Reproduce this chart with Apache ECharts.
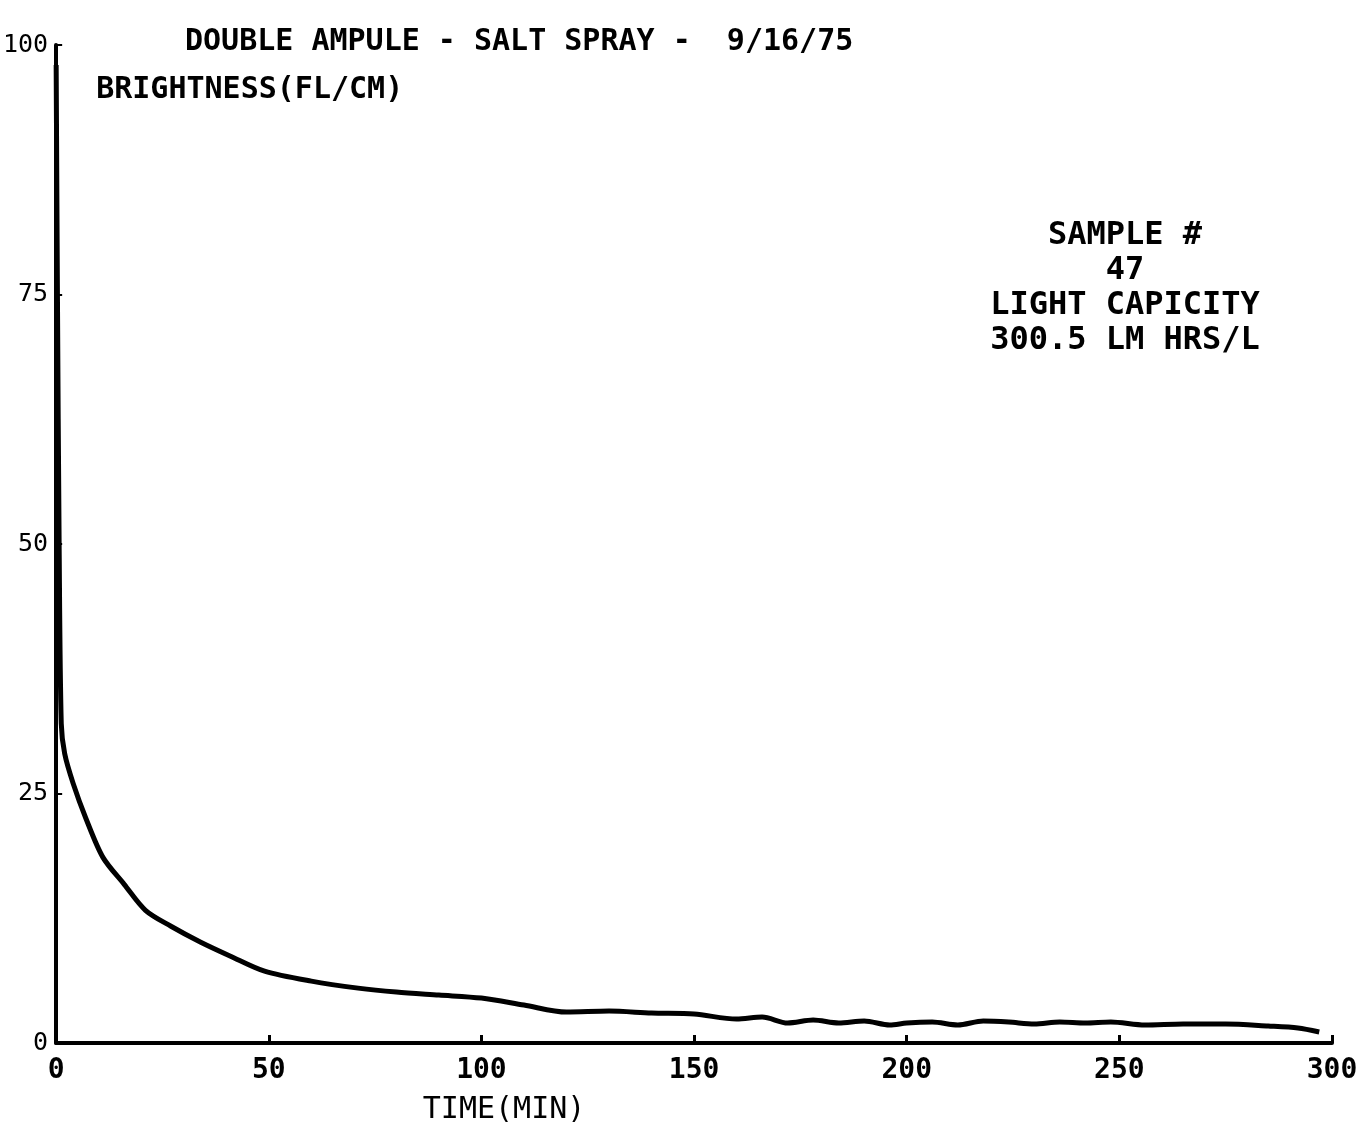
<!DOCTYPE html>
<html>
<head>
<meta charset="utf-8">
<script src="https://cdn.jsdelivr.net/npm/echarts@6/dist/echarts.min.js"></script>
<style>
  html, body { margin: 0; padding: 0; background: #fff; }
  #main { width: 1370px; height: 1130px; }
</style>
</head>
<body>
<div id="main"></div>
<script>
var chart = echarts.init(document.getElementById('main'));

// values
var timeMin = [0, 0.3, 0.7, 1.2, 2, 4, 7, 11, 16, 21, 27, 34, 41, 49, 60, 71, 80, 90, 100,
    110, 120, 130, 140, 150, 160, 166, 172, 178, 184, 190, 196, 200, 206, 212, 218, 224,
    230, 236, 242, 248, 256, 265, 275, 285, 292, 297];
var brightness = [98, 75, 50, 32, 29, 26, 22.5, 18.6, 15.9, 13.3, 11.7, 10.1, 8.7, 7.2, 6.2,
    5.5, 5.1, 4.8, 4.5, 3.8, 3.1, 3.2, 3.0, 2.9, 2.4, 2.6, 2.0, 2.3, 2.0, 2.2, 1.8, 2.0,
    2.1, 1.8, 2.2, 2.1, 1.9, 2.1, 2.0, 2.1, 1.8, 1.9, 1.9, 1.7, 1.5, 1.1];
var yTicks = [0, 25, 50, 75, 100];
var xTicks = [0, 50, 100, 150, 200, 250, 300];
var noteLines = ['SAMPLE #', '47', 'LIGHT CAPICITY', '300.5 LM HRS/L'];

var font = 'DejaVu Sans Mono';
var series = timeMin.map(function (t, i) { return [t, brightness[i]]; });

var option = {
    backgroundColor: '#fff',
    animation: false,
    title: {
        text: 'DOUBLE AMPULE - SALT SPRAY -  9/16/75',
        left: 180,
        top: 22,
        textStyle: { fontFamily: font, fontSize: 30, fontWeight: 'bold', color: '#000' }
    },
    grid: { left: 55, right: 38, top: 45, bottom: 82 },
    xAxis: {
        type: 'value',
        min: 0,
        max: 300,
        interval: 50,
        name: 'TIME(MIN)',
        nameLocation: 'middle',
        nameGap: 52,
        nameTextStyle: { fontFamily: font, fontSize: 30, color: '#000', padding: [0, 380, 0, 0] },
        axisLine: { lineStyle: { color: '#000', width: 4 } },
        axisTick: { inside: true, length: 8, lineStyle: { color: '#000', width: 3 } },
        axisLabel: {
            fontFamily: font, fontSize: 28, fontWeight: 'bold', color: '#000', margin: 14,
            formatter: function (v) { return xTicks.indexOf(v) >= 0 ? String(v) : ''; }
        },
        splitLine: { show: false }
    },
    yAxis: {
        type: 'value',
        min: 0,
        max: 100,
        interval: 25,
        name: 'BRIGHTNESS(FL/CM)',
        nameLocation: 'end',
        nameGap: -60,
        nameTextStyle: { fontFamily: font, fontSize: 30, fontWeight: 'bold', color: '#000', align: 'left', padding: [0, 0, 0, 40] },
        axisLine: { lineStyle: { color: '#000', width: 4 } },
        axisTick: { show: true, inside: true, length: 6, lineStyle: { color: '#000', width: 2 } },
        axisLabel: {
            fontFamily: font, fontSize: 25, color: '#000', margin: 8,
            formatter: function (v) { return yTicks.indexOf(v) >= 0 ? String(v) : ''; }
        },
        splitLine: { show: false }
    },
    graphic: [{
        type: 'text',
        x: 1125,
        y: 218,
        style: {
            text: noteLines.join('\n'),
            fontFamily: font,
            fontSize: 32,
            fontWeight: 'bold',
            lineHeight: 35,
            fill: '#000',
            align: 'center'
        }
    }],
    series: [{
        type: 'line',
        data: series,
        showSymbol: false,
        smooth: 0.3,
        lineStyle: { color: '#000', width: 5 }
    }]
};
chart.setOption(option);
</script>
</body>
</html>
